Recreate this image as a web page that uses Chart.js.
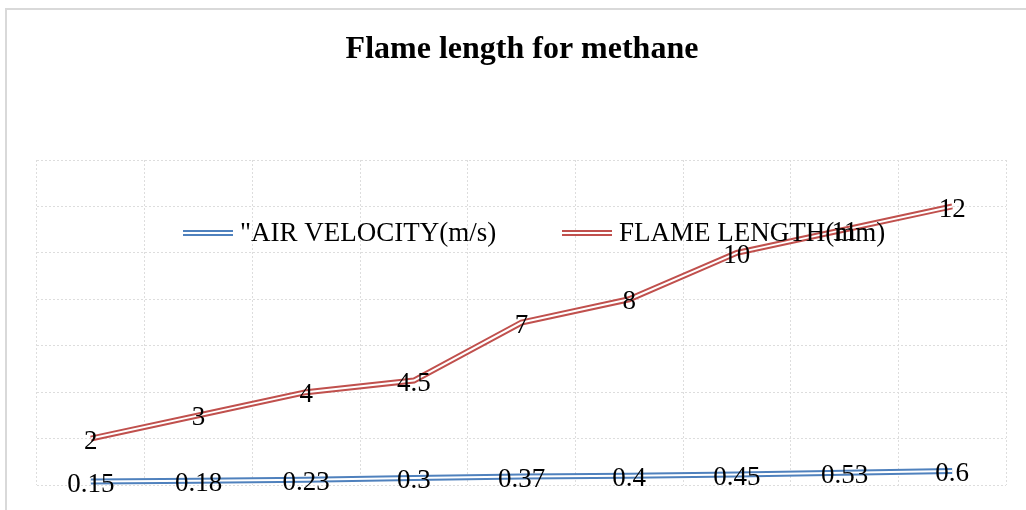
<!DOCTYPE html>
<html>
<head>
<meta charset="utf-8">
<script src="https://cdn.jsdelivr.net/npm/chart.js@4.4.1/dist/chart.umd.min.js"></script>
<style>
  body { margin: 0; background: #fff; }
  #wrap { width: 1026px; height: 510px; }
</style>
</head>
<body>
<div id="wrap"><canvas id="myChart" width="1026" height="510"></canvas></div>
<script>
// data
var categories = ["1", "2", "3", "4", "5", "6", "7", "8", "9"];
var airVelocity = [0.15, 0.18, 0.23, 0.3, 0.37, 0.4, 0.45, 0.53, 0.6];
var flameLength = [2, 3, 4, 4.5, 7, 8, 10, 11, 12];
var seriesNames = ['"AIR VELOCITY(m/s)', "FLAME LENGTH(mm)"];
var seriesColors = ["#4f81bd", "#c0504d"];
var chartTitle = "Flame length for methane";

var serif = "'Liberation Serif', 'Times New Roman', serif";

// frame + title
const framePlugin = {
    id: "frame",
    beforeDraw(chart) {
        const ctx = chart.ctx;
        ctx.save();
        ctx.strokeStyle = "#d9d9d9";
        ctx.lineWidth = 2;
        ctx.strokeRect(6, 9, 1030, 520);
        ctx.fillStyle = "#000";
        ctx.font = "bold 32px " + serif;
        ctx.textAlign = "center";
        ctx.textBaseline = "middle";
        ctx.fillText(chartTitle, 522, 50);
        ctx.restore();
    }
};

// white stroke in the middle -> double line look, then labels + legend
const doubleLinePlugin = {
    id: "doubleLine",
    afterDatasetsDraw(chart) {
        const ctx = chart.ctx;
        ctx.save();
        chart.data.datasets.forEach((ds, i) => {
            const pts = chart.getDatasetMeta(i).data;
            ctx.beginPath();
            pts.forEach((p, j) => {
                if (j == 0) ctx.moveTo(p.x, p.y); else ctx.lineTo(p.x, p.y);
            });
            ctx.strokeStyle = "#fff";
            ctx.lineWidth = 2;
            ctx.lineJoin = "round";
            ctx.stroke();
        });

        // value labels
        ctx.fillStyle = "#000";
        ctx.font = "27px " + serif;
        ctx.textAlign = "center";
        ctx.textBaseline = "middle";
        chart.data.datasets.forEach((ds, i) => {
            const pts = chart.getDatasetMeta(i).data;
            pts.forEach((p, j) => {
                ctx.fillText(String(ds.data[j]), p.x, p.y + 3);
            });
        });

        // legend inside the plot area
        const legendX = [183, 562];
        const ly = 233;
        chart.data.datasets.forEach((ds, i) => {
            const x = legendX[i];
            ctx.beginPath();
            ctx.moveTo(x, ly);
            ctx.lineTo(x + 50, ly);
            ctx.strokeStyle = ds.borderColor;
            ctx.lineWidth = 6;
            ctx.stroke();
            ctx.beginPath();
            ctx.moveTo(x, ly);
            ctx.lineTo(x + 50, ly);
            ctx.strokeStyle = "#fff";
            ctx.lineWidth = 2;
            ctx.stroke();
            ctx.fillStyle = "#000";
            ctx.textAlign = "left";
            ctx.fillText(ds.label, x + 57, ly + 1);
        });
        ctx.restore();
    }
};

new Chart("myChart", {
    type: "line",
    data: {
        labels: categories,
        datasets: [{
            label: seriesNames[0],
            data: airVelocity,
            borderColor: seriesColors[0],
            borderWidth: 6,
            pointRadius: 0,
            tension: 0,
            fill: false
        }, {
            label: seriesNames[1],
            data: flameLength,
            borderColor: seriesColors[1],
            borderWidth: 6,
            pointRadius: 0,
            tension: 0,
            fill: false
        }]
    },
    options: {
        responsive: false,
        animation: false,
        events: [],
        layout: { padding: { left: 37, right: 20, top: 160, bottom: 25 } },
        plugins: {
            legend: { display: false },
            title: { display: false },
            tooltip: { enabled: false }
        },
        scales: {
            x: {
                offset: true,
                grid: { offset: true, color: "#dddddd", tickLength: 0, drawTicks: false },
                border: { display: false, dash: [2, 2] },
                ticks: { display: false }
            },
            y: {
                min: 0,
                max: 14,
                ticks: { display: false, stepSize: 2 },
                grid: { color: "#dddddd", drawTicks: false },
                border: { display: false, dash: [2, 2] }
            }
        }
    },
    plugins: [framePlugin, doubleLinePlugin]
});
</script>
</body>
</html>
